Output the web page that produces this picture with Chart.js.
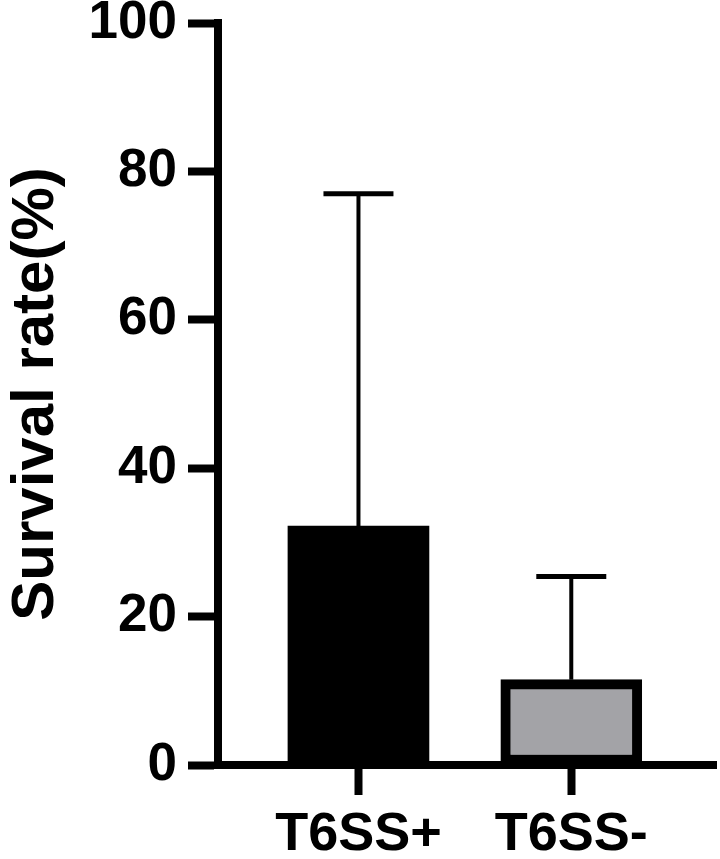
<!DOCTYPE html>
<html>
<head>
<meta charset="utf-8">
<script src="https://cdn.jsdelivr.net/npm/chart.js@4.4.0/dist/chart.umd.min.js"></script>
<style>
  body { margin: 0; background: #fff; }
  canvas { display: block; }
</style>
</head>
<body>
<canvas id="chart1" width="720" height="859"></canvas>
<script>
// data
const categories = ['T6SS+', 'T6SS-'];
const means = [32.2, 11.5];
const errUp = [44.8, 13.9];   // upper error (SD)
const yTicks = [0, 20, 40, 60, 80, 100];
const barColors = ['#000000', '#a3a3a7'];

const FONT = "'Liberation Sans', Arial, sans-serif";

// draws the upward error bars using the chart's own scales
const errorBars = {
  id: 'errorBars',
  beforeDatasetsDraw(chart) {
    const ctx = chart.ctx;
    const xs = chart.scales.x, ys = chart.scales.y;
    ctx.save();
    ctx.strokeStyle = '#000';
    for (let i = 0; i < means.length; i++) {
      const x = xs.getPixelForValue(i + 1);
      const y0 = ys.getPixelForValue(means[i]);
      const y1 = ys.getPixelForValue(means[i] + errUp[i]);
      ctx.lineWidth = 4;
      ctx.beginPath();
      ctx.moveTo(x, y0);
      ctx.lineTo(x, y1);
      ctx.stroke();
      ctx.lineWidth = 5;
      ctx.beginPath();
      ctx.moveTo(x - 35, y1);
      ctx.lineTo(x + 35, y1);
      ctx.stroke();
    }
    ctx.restore();
  }
};

function LoadChart(canvas) {
  const chartData = {
    datasets: [{
      data: categories.map((c, i) => ({ x: i + 1, y: means[i] })),
      backgroundColor: barColors,
      borderColor: '#000',
      borderWidth: [0, 10],
      borderSkipped: false,
      barThickness: 141,
    }]
  };
  const chartOptions = {
    responsive: false,
    animation: false,
    layout: { padding: { top: 23, right: 4, left: 0, bottom: 0 } },
    plugins: {
      legend: { display: false },
      tooltip: { enabled: false },
    },
    scales: {
      x: {
        type: 'linear',
        min: 0.34,
        max: 2.68,
        offset: false,
        afterBuildTicks: scale => {
          scale.ticks = categories.map((c, i) => ({ value: i + 1 }));
        },
        afterFit: scale => { scale.height = 94; },
        border: { display: true, color: '#000', width: 8 },
        grid: {
          offset: false,
          drawOnChartArea: false,
          drawTicks: true,
          tickLength: 30,
          tickWidth: 8,
          tickColor: '#000',
        },
        ticks: {
          autoSkip: false,
          maxRotation: 0,
          padding: 8,
          color: '#000',
          font: { family: FONT, size: 54, weight: 'bold' },
          callback: v => categories[v - 1] || '',
        },
      },
      y: {
        min: 0,
        max: 100,
        afterBuildTicks: scale => {
          scale.ticks = yTicks.map(v => ({ value: v }));
        },
        afterFit: scale => { scale.width = 218; },
        border: { display: true, color: '#000', width: 8 },
        grid: {
          drawOnChartArea: false,
          drawTicks: true,
          tickLength: 30,
          tickWidth: 8,
          tickColor: '#000',
        },
        ticks: {
          padding: 11,
          color: '#000',
          font: { family: FONT, size: 53, weight: 'bold', lineHeight: 0.4 },
        },
        title: {
          display: true,
          text: 'Survival rate(%)',
          color: '#000',
          padding: 0,
          font: { family: FONT, size: 60, weight: 'bold' },
        },
      },
    },
  };
  const ctx = document.getElementById(canvas).getContext('2d');
  new Chart(ctx, {
    type: 'bar',
    data: chartData,
    options: chartOptions,
    plugins: [errorBars],
  });
}

LoadChart('chart1');
</script>
</body>
</html>
